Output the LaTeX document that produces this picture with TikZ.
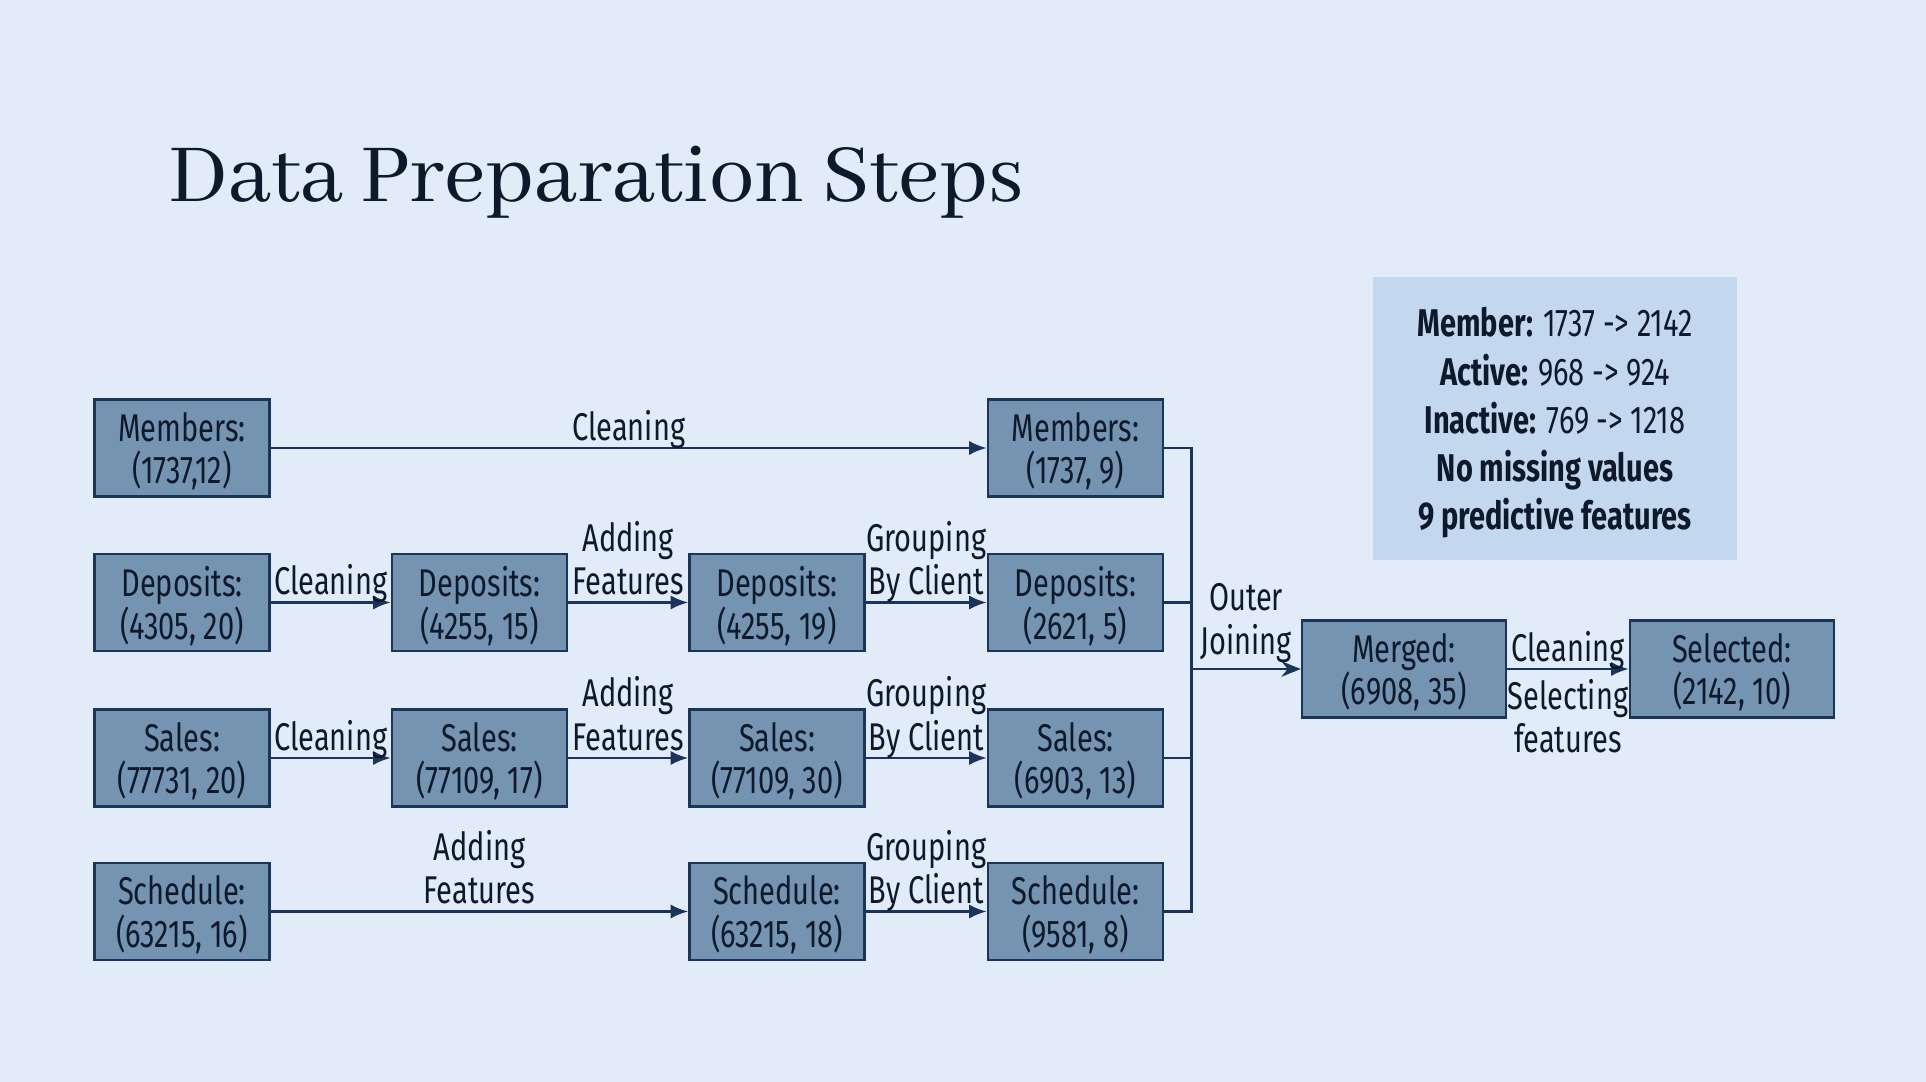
\documentclass[tikz,border=0pt]{standalone}
\usepackage{fontspec}
\setmainfont{Fira Sans}[FakeStretch=0.75]
\newfontfamily\titlefont{Abhaya Libre}
\usetikzlibrary{arrows.meta}

\definecolor{bgblue}{HTML}{E1ECF8}
\definecolor{boxblue}{HTML}{7494B2}
\definecolor{navy}{HTML}{1B355A}
\definecolor{ink}{HTML}{0E1A2B}
\definecolor{noteblue}{HTML}{C3D8EE}

\tikzset{
  table/.style={draw=navy, fill=boxblue, line width=0.7pt, text=ink,
    minimum width=17.5mm, minimum height=9.7mm, inner sep=0pt, text depth=0pt,
    align=center, font=\fontsize{11}{12.2}\selectfont},
  wide/.style={table, minimum width=20.4mm},
  lbl/.style={text=ink, align=center, inner sep=1.5pt,
    font=\fontsize{11}{12.4}\selectfont},
  steplbl/.style={lbl, text depth=0pt, inner ysep=1.9pt},
  flow/.style={draw=navy, line width=0.7pt, -{Latex[length=5pt,width=4pt]}},
  bus/.style={draw=navy, line width=0.7pt},
  joinarrow/.style={draw=navy, line width=0.7pt, -{Stealth[length=5.5pt,width=4.4pt]}}
}

\begin{document}
\begin{tikzpicture}[x=0.1mm, y=-0.1mm]
  \fill[bgblue] (0,0) rectangle (1926,1082);
  \useasboundingbox (0,0) rectangle (1926,1082);

  \node[anchor=base west, inner sep=0pt, text=ink,
    font=\titlefont\fontsize{25.8}{30}\selectfont] (title) at (168,202) {Data Preparation Steps};

  \begin{scope}
    % raw tables
    \node[table] (mem1) at (182,448) {Members:\\(1737,12)};
    \node[table] (dep1) at (182,602.5) {Deposits:\\(4305, 20)};
    \node[table] (sal1) at (182,758) {Sales:\\(77731, 20)};
    \node[table] (sch1) at (182,911.5) {Schedule:\\(63215, 16)};

    \node[table] (dep2) at (479.5,602.5) {Deposits:\\(4255, 15)};
    \node[table] (sal2) at (479.5,758) {Sales:\\(77109, 17)};

    \node[table] (dep3) at (777,602.5) {Deposits:\\(4255, 19)};
    \node[table] (sal3) at (777,758) {Sales:\\(77109, 30)};
    \node[table] (sch3) at (777,911.5) {Schedule:\\(63215, 18)};

    \node[table] (mem4) at (1075.5,448) {Members:\\(1737, 9)};
    \node[table] (dep4) at (1075.5,602.5) {Deposits:\\(2621, 5)};
    \node[table] (sal4) at (1075.5,758) {Sales:\\(6903, 13)};
    \node[table] (sch4) at (1075.5,911.5) {Schedule:\\(9581, 8)};

    % merged tables
    \node[wide] (merged) at (1404,669) {Merged:\\(6908, 35)};
    \node[wide] (selected) at (1732,669) {Selected:\\(2142, 10)};

    \node[fill=noteblue, minimum width=36.4mm, minimum height=28.3mm, text=ink,
      text depth=0pt, align=center, font=\fontsize{11}{13.7}\selectfont] (summary) at (1555,418.5)
      {\textbf{Member:} 1737 -> 2142\\\textbf{Active:} 968 -> 924\\
       \textbf{Inactive:} 769 -> 1218\\\textbf{No missing values}\\
       \textbf{9 predictive features}};

    \draw[flow] (mem1) -- node[steplbl, above] {Cleaning} (mem4);
    \draw[flow] (dep1) -- node[steplbl, above] {Cleaning} (dep2);
    \draw[flow] (sal1) -- node[steplbl, above] {Cleaning} (sal2);
    \draw[flow] (dep2) -- node[steplbl, above] {Adding\\Features} (dep3);
    \draw[flow] (sal2) -- node[steplbl, above] {Adding\\Features} (sal3);
    \draw[flow] (sch1) -- node[steplbl, above] {Adding\\Features} (sch3);
    \draw[flow] (dep3) -- node[steplbl, above] {Grouping\\By Client} (dep4);
    \draw[flow] (sal3) -- node[steplbl, above] {Grouping\\By Client} (sal4);
    \draw[flow] (sch3) -- node[steplbl, above] {Grouping\\By Client} (sch4);

    \coordinate (hub) at (1191.5,669);
    \draw[bus] (mem4.east) -| (hub);
    \draw[bus] (dep4.east) -| (hub);
    \draw[bus] (sal4.east) -| (hub);
    \draw[bus] (sch4.east) -| (hub);
    \draw[joinarrow] (hub) -- node[lbl, above] {Outer\\Joining} (merged);

    \draw[flow] (merged) -- node[steplbl, above] {Cleaning}
      node[lbl, below, inner ysep=2.5pt] {Selecting\\features} (selected);
  \end{scope}
\end{tikzpicture}
\end{document}
